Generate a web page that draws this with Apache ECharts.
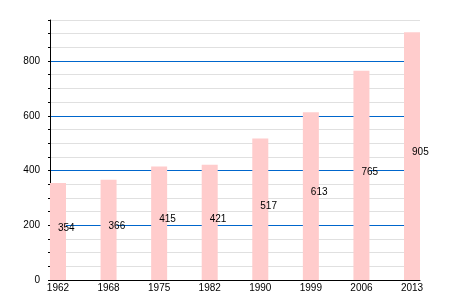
<!DOCTYPE html>
<html><head><meta charset="utf-8">
<script src="https://cdn.jsdelivr.net/npm/echarts@6/dist/echarts.min.js"></script>
<style>html,body{margin:0;padding:0;background:#fff}#c{width:450px;height:300px}</style>
</head><body><div id="c"></div>
<script>
var categories = ['1962','1968','1975','1982','1990','1999','2006','2013'];
var values = [354, 366, 415, 421, 517, 613, 765, 905];
var yTickLabels = [0, 200, 400, 600, 800];

var FONT = "'Liberation Sans', Arial, sans-serif";
var chart = echarts.init(document.getElementById('c'), null, {renderer: 'canvas'});
chart.setOption({
  animation: false,
  backgroundColor: '#fff',
  grid: [
    {left: 50, right: 30, top: 20, bottom: 20, containLabel: false},
    {left: 32.7, right: 12.7, top: 20, bottom: 20, containLabel: false}
  ],
  xAxis: [
    {gridIndex: 0, type: 'value', min: 0, max: 1,
     axisLine: {show: true, onZero: false, lineStyle: {color: '#000', width: 1}},
     axisTick: {show: false}, axisLabel: {show: false}, splitLine: {show: false}},
    {gridIndex: 1, type: 'category', data: categories, boundaryGap: true,
     axisLine: {show: false}, axisTick: {show: false}, splitLine: {show: false},
     axisLabel: {margin: 3, fontSize: 10, color: '#000', fontFamily: FONT, interval: 0}}
  ],
  yAxis: [
    {gridIndex: 0, type: 'value', min: 0, max: 950, interval: 50,
     axisLine: {show: true, lineStyle: {color: '#000', width: 1}},
     axisTick: {show: true, length: 2, lineStyle: {color: '#000'}},
     axisLabel: {margin: 10, fontSize: 10, color: '#000', fontFamily: FONT,
       formatter: function (v) { return yTickLabels.indexOf(v) >= 0 ? String(v) : ''; }},
     splitLine: {show: true, lineStyle: {color: ['#0066cc', '#e0e0e0', '#e0e0e0', '#e0e0e0'], width: 1}}},
    {gridIndex: 1, type: 'value', min: 0, max: 950, show: false, splitLine: {show: false}}
  ],
  series: [{
    type: 'bar', xAxisIndex: 1, yAxisIndex: 1, data: values, barWidth: 16,
    itemStyle: {color: '#ffcccc'}, z: 3,
    label: {show: true, position: 'inside', align: 'left', verticalAlign: 'middle',
      offset: [0, -3.5], fontSize: 10, color: '#000', fontFamily: FONT}
  }]
});
</script></body></html>
